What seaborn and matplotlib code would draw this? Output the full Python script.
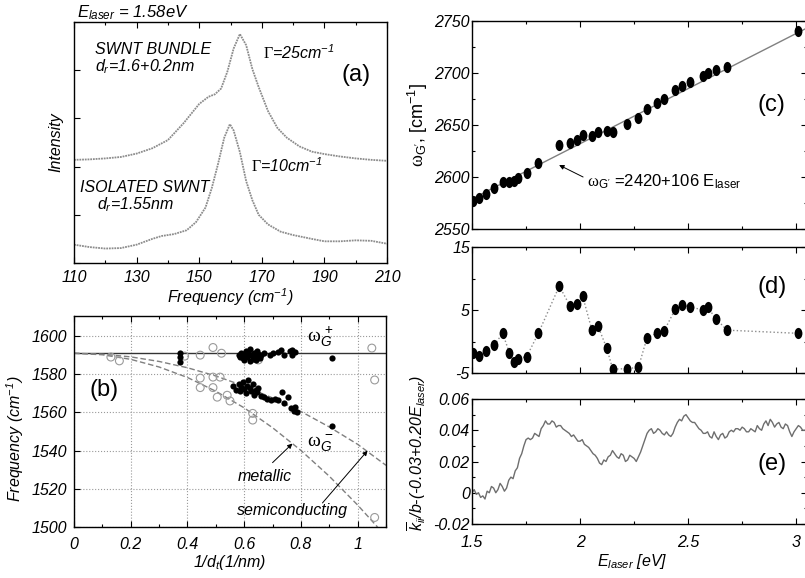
import matplotlib
matplotlib.use("Agg")
import matplotlib.pyplot as plt
from matplotlib.path import Path
from matplotlib.ticker import MultipleLocator
import seaborn as sns

# ---------------- data ----------------
# (a) RBM spectra at E_laser = 1.58 eV
freq_bundle = [110, 115, 120, 125, 130, 135, 140, 145, 150, 153, 155, 157, 159, 161, 163,
               165, 167, 169, 172, 175, 178, 182, 186, 190, 195, 200, 205, 210]
int_bundle = [2.14, 2.15, 2.17, 2.20, 2.27, 2.38, 2.55, 2.90, 3.30, 3.45, 3.50, 3.62, 3.97, 4.45, 4.75,
              4.52, 4.02, 3.65, 3.15, 2.80, 2.60, 2.42, 2.31, 2.26, 2.21, 2.17, 2.14, 2.12]
freq_iso = [110, 115, 120, 125, 130, 135, 138, 142, 146, 149, 152, 154, 156, 158, 159.8,
            161, 163, 165, 167, 169, 172, 176, 180, 186, 190, 195, 200, 205, 210]
int_iso = [0.38, 0.33, 0.30, 0.31, 0.38, 0.50, 0.56, 0.60, 0.68, 0.85, 1.15, 1.55, 2.05, 2.60, 2.88,
           2.75, 2.30, 1.70, 1.30, 1.00, 0.80, 0.65, 0.58, 0.50, 0.45, 0.45, 0.47, 0.46, 0.40]
a_xticks = [110, 130, 150, 170, 190, 210]

# (b) G-band frequencies vs 1/dt
gplus_x = [0.375, 0.375, 0.375, 0.58, 0.585, 0.59, 0.595, 0.60, 0.605, 0.61, 0.615, 0.62, 0.625,
           0.63, 0.635, 0.64, 0.645, 0.65, 0.655, 0.66, 0.60, 0.62, 0.64, 0.67, 0.69, 0.70, 0.72,
           0.73, 0.74, 0.76, 0.77, 0.77, 0.78, 0.91]
gplus_y = [1591, 1589, 1586.5, 1590, 1589, 1591, 1588.5, 1590.5, 1592, 1589, 1591.5, 1593, 1590,
           1588, 1591, 1589.5, 1592, 1590.5, 1588.5, 1590, 1587.5, 1587, 1587.5, 1591, 1590, 1591,
           1591.8, 1592.6, 1590, 1592.3, 1592.6, 1590, 1591.5, 1588.5]
gminus_x = [0.56, 0.57, 0.58, 0.585, 0.59, 0.595, 0.60, 0.605, 0.61, 0.615, 0.62, 0.625, 0.63,
            0.635, 0.64, 0.645, 0.65, 0.66, 0.67, 0.68, 0.695, 0.71, 0.72, 0.735, 0.74, 0.755,
            0.765, 0.775, 0.78, 0.785, 0.91]
gminus_y = [1574, 1572, 1575, 1571, 1573.5, 1576, 1572.5, 1570, 1574, 1577, 1573, 1571, 1575,
            1569, 1572, 1570.5, 1573, 1568.5, 1568, 1567, 1566.5, 1567, 1566.5, 1570.5, 1565, 1568,
            1562.5, 1561, 1563, 1560, 1553]
open_x = [0.13, 0.16, 0.39, 0.445, 0.49, 0.52, 0.65, 0.445, 0.49, 0.515, 0.445, 0.49, 0.505,
          0.54, 0.55, 0.63, 0.63, 1.05, 1.06, 1.06]
open_y = [1589, 1587, 1589.5, 1590, 1594, 1591, 1587.5, 1578, 1578.5, 1578.5, 1573, 1573, 1568,
          1569, 1566, 1556, 1559.5, 1593.7, 1577, 1505]
gplus_line_x = [0, 1.1]
gplus_line_y = [1591, 1591]
semi_x = [0, 0.1, 0.2, 0.3, 0.4, 0.5, 0.6, 0.7, 0.8, 0.9, 1.0, 1.1]
semi_y = [1591, 1590.5, 1589.1, 1586.7, 1583.4, 1579.1, 1573.8, 1567.6, 1560.5, 1552.4, 1543.3, 1532.3]
metal_x = [0, 0.1, 0.2, 0.3, 0.4, 0.5, 0.6, 0.7, 0.8, 0.9, 1.0, 1.07]
metal_y = [1591, 1590.2, 1587.8, 1583.8, 1578.3, 1571.1, 1562.4, 1552.0, 1540.1, 1526.6, 1511.5, 1500]
b_xticks = [0, 0.2, 0.4, 0.6, 0.8, 1.0]
b_xticklabels = ['0', '0.2', '0.4', '0.6', '0.8', '1']

# (c), (d) G' band vs laser energy
e_laser = [1.503, 1.534, 1.565, 1.602, 1.642, 1.673, 1.694, 1.714, 1.753, 1.807, 1.904, 1.954,
           1.985, 2.012, 2.054, 2.082, 2.124, 2.151, 2.219, 2.270, 2.309, 2.358, 2.389, 2.440,
           2.471, 2.509, 2.568, 2.590, 2.630, 2.679, 3.008]
w_gprime = [2577, 2580, 2584, 2589, 2595, 2595.5, 2596.5, 2599, 2603.5, 2613, 2630.5, 2632.5,
            2636, 2640.5, 2639.5, 2643, 2644, 2643.5, 2651, 2656.5, 2665, 2671, 2675, 2683.5,
            2687.5, 2691.5, 2697, 2700, 2702.5, 2706, 2740]
w_resid = [-1.9, -2.3, -1.5, -0.6, 1.3, -1.8, -3.2, -2.7, -2.4, 1.3, 8.8, 5.6, 5.9, 7.2, 1.9, 2.5,
           -1.1, -4.4, -4.3, -4.1, 0.5, 1.4, 1.7, 5.1, 5.8, 5.5, 5.0, 5.4, 3.6, 1.8, 1.3]
fit_e = [1.5, 3.05]
fit_w = [2579, 2743.3]

# (e) normalised intensity
e_energy = [1.50, 1.51, 1.52, 1.53, 1.54, 1.55, 1.56, 1.57, 1.58, 1.59, 1.60, 1.61, 1.62, 1.63,
            1.64, 1.65, 1.66, 1.67, 1.68, 1.69, 1.70, 1.71, 1.72, 1.73, 1.74, 1.75, 1.76, 1.77,
            1.78, 1.79, 1.80, 1.81, 1.82, 1.83, 1.84, 1.85, 1.86, 1.87, 1.88, 1.89, 1.90, 1.91,
            1.92, 1.93, 1.94, 1.95, 1.96, 1.97, 1.98, 1.99, 2.00, 2.01, 2.02, 2.03, 2.04, 2.05,
            2.06, 2.07, 2.08, 2.09, 2.10, 2.11, 2.12, 2.13, 2.14, 2.15, 2.16, 2.17, 2.18, 2.19,
            2.20, 2.21, 2.22, 2.23, 2.24, 2.25, 2.26, 2.27, 2.28, 2.29, 2.30, 2.31, 2.32, 2.33,
            2.34, 2.35, 2.36, 2.37, 2.38, 2.39, 2.40, 2.41, 2.42, 2.43, 2.44, 2.45, 2.46, 2.47,
            2.48, 2.49, 2.50, 2.51, 2.52, 2.53, 2.54, 2.55, 2.56, 2.57, 2.58, 2.59, 2.60, 2.61,
            2.62, 2.63, 2.64, 2.65, 2.66, 2.67, 2.68, 2.69, 2.70, 2.71, 2.72, 2.73, 2.74, 2.75,
            2.76, 2.77, 2.78, 2.79, 2.80, 2.81, 2.82, 2.83, 2.84, 2.85, 2.86, 2.87, 2.88, 2.89,
            2.90, 2.91, 2.92, 2.93, 2.94, 2.95, 2.96, 2.97, 2.98, 2.99, 3.00, 3.01, 3.02, 3.03,
            3.04, 3.05]
e_kappa = [0.000, 0.002, -0.001, 0.000, -0.003, -0.002, -0.004, 0.001, 0.000, 0.004, 0.003, 0.000,
           0.002, 0.006, 0.004, 0.001, 0.003, 0.008, 0.010, 0.009, 0.014, 0.016, 0.022, 0.025,
           0.030, 0.034, 0.035, 0.034, 0.035, 0.038, 0.037, 0.036, 0.041, 0.043, 0.046, 0.044,
           0.044, 0.046, 0.045, 0.042, 0.043, 0.043, 0.041, 0.040, 0.039, 0.038, 0.036, 0.037,
           0.035, 0.033, 0.033, 0.034, 0.031, 0.030, 0.029, 0.027, 0.025, 0.024, 0.022, 0.019,
           0.018, 0.021, 0.020, 0.023, 0.024, 0.027, 0.025, 0.023, 0.022, 0.025, 0.024, 0.020,
           0.021, 0.024, 0.023, 0.022, 0.020, 0.023, 0.026, 0.030, 0.034, 0.038, 0.040, 0.041,
           0.038, 0.039, 0.041, 0.040, 0.038, 0.037, 0.039, 0.037, 0.036, 0.038, 0.042, 0.045,
           0.047, 0.046, 0.049, 0.050, 0.048, 0.046, 0.045, 0.045, 0.043, 0.041, 0.040, 0.038,
           0.038, 0.039, 0.036, 0.035, 0.039, 0.036, 0.034, 0.037, 0.038, 0.035, 0.036, 0.039,
           0.040, 0.039, 0.041, 0.041, 0.040, 0.042, 0.041, 0.039, 0.039, 0.041, 0.040, 0.039,
           0.043, 0.041, 0.040, 0.044, 0.046, 0.043, 0.047, 0.045, 0.042, 0.044, 0.045, 0.042,
           0.041, 0.044, 0.043, 0.039, 0.036, 0.039, 0.041, 0.043, 0.042, 0.040, 0.040, 0.041]
e_xticks = [1.5, 2.0, 2.5, 3.0]
e_xticklabels = ['1.5', '2', '2.5', '3']
e_yticks = [-0.02, 0, 0.02, 0.04, 0.06]
e_yticklabels = ['-0.02', '0', '0.02', '0.04', '0.06']

# ---------------- style ----------------
sns.set_style("ticks")
plt.rcParams['font.family'] = ['Liberation Sans', 'DejaVu Sans']
plt.rcParams['font.style'] = 'italic'
plt.rcParams['mathtext.fontset'] = 'custom'
plt.rcParams['mathtext.rm'] = 'Liberation Sans:style=normal'
plt.rcParams['mathtext.it'] = 'Liberation Sans:style=italic'
plt.rcParams['mathtext.sf'] = 'Liberation Sans:style=italic'
plt.rcParams['mathtext.cal'] = 'Liberation Serif:style=normal'
plt.rcParams['axes.unicode_minus'] = False
plt.rcParams['axes.edgecolor'] = 'black'
plt.rcParams['axes.linewidth'] = 1.0
plt.rcParams['text.color'] = 'black'
plt.rcParams['axes.labelcolor'] = 'black'
plt.rcParams['xtick.color'] = 'black'
plt.rcParams['ytick.color'] = 'black'

W, H = 805, 578
fig = plt.figure(figsize=(W / 100, H / 100), dpi=100)


def rect(l, t, r, b):
    return [l / W, 1 - b / H, (r - l) / W, (b - t) / H]


def ticks(ax, right=False, pad_x=4, pad_y=4):
    ax.tick_params(which='both', direction='in', top=True, right=right, labelsize=11.5, width=0.8)
    ax.tick_params(which='major', length=4)
    ax.tick_params(which='minor', length=2.5)
    ax.tick_params(axis='x', pad=pad_x)
    ax.tick_params(axis='y', pad=pad_y)


circ = Path.unit_circle()
ell = Path(circ.vertices * [0.7, 1.0], circ.codes)
big = dict(fontsize=17, fontstyle='normal')
arrow = dict(arrowstyle='-|>', color='black', lw=0.7, mutation_scale=7, shrinkA=0, shrinkB=0)

# ---------------- (a) ----------------
ax_a = fig.add_axes(rect(74, 22, 387, 263))
dotted = dict(color='#8c8c8c', lw=1.3, linestyle=(0, (1, 0.5)))
sns.lineplot(x=freq_bundle, y=int_bundle, ax=ax_a, **dotted)
sns.lineplot(x=freq_iso, y=int_iso, ax=ax_a, **dotted)
ax_a.set_xlim(110, 210)
ax_a.set_ylim(0, 5)
ax_a.set_xticks(a_xticks)
ax_a.xaxis.set_minor_locator(MultipleLocator(10))
ax_a.yaxis.set_major_locator(MultipleLocator(1))
ax_a.set_yticklabels([])
ticks(ax_a, pad_x=5)
ax_a.set_xlabel(r"Frequency (cm$^{\mathsf{-1}}$)", fontsize=11.5)
ax_a.xaxis.set_label_coords(0.5, -0.095)
ax_a.set_ylabel("Intensity", fontsize=11.5)
ax_a.yaxis.set_label_coords(-0.035, 0.5)
ax_a.text(0.01, 1.04, r"$E_{laser}$ = 1.58eV", transform=ax_a.transAxes, fontsize=12, va='center')
ax_a.text(116.7, 4.42, "SWNT BUNDLE", fontsize=11.5, va='center')
ax_a.text(116.7, 4.07, r"$d_r$=1.6+0.2nm", fontsize=11.5, va='center')
ax_a.text(170.5, 4.36, r"$\mathcal{\Gamma}$=25cm$^{\mathsf{-1}}$", fontsize=11.5, va='center')
ax_a.text(200.1, 3.9, "(a)", ha='center', va='center', **big)
ax_a.text(166.5, 2.03, r"$\mathcal{\Gamma}$=10cm$^{\mathsf{-1}}$", fontsize=11.5, va='center')
ax_a.text(111.9, 1.56, "ISOLATED SWNT", fontsize=11.5, va='center')
ax_a.text(117.3, 1.22, r"$d_r$=1.55nm", fontsize=11.5, va='center')

# ---------------- (b) ----------------
ax_b = fig.add_axes(rect(74, 316, 386, 527))
sns.lineplot(x=gplus_line_x, y=gplus_line_y, ax=ax_b, color='#333333', lw=1.0)
sns.lineplot(x=semi_x, y=semi_y, ax=ax_b, color='#808080', lw=1.0, linestyle=(0, (4, 2)))
sns.lineplot(x=metal_x, y=metal_y, ax=ax_b, color='#808080', lw=1.0, linestyle=(0, (4, 2)))
sns.scatterplot(x=open_x, y=open_y, ax=ax_b, s=32, facecolor='none', edgecolor='#9a9a9a',
                linewidth=0.8, zorder=3)
sns.scatterplot(x=gplus_x, y=gplus_y, ax=ax_b, s=20, color='black', linewidth=0, zorder=4)
sns.scatterplot(x=gminus_x, y=gminus_y, ax=ax_b, s=20, color='black', linewidth=0, zorder=4)
ax_b.set_xlim(0, 1.1)
ax_b.set_ylim(1500, 1610.5)
ax_b.set_xticks(b_xticks, b_xticklabels)
ax_b.xaxis.set_minor_locator(MultipleLocator(0.1))
ax_b.yaxis.set_major_locator(MultipleLocator(20))
ax_b.grid(True, which='major', linestyle=':', color='#9a9a9a', lw=0.8)
ticks(ax_b, pad_x=7, pad_y=5)
ax_b.set_ylabel(r"Frequency (cm$^{\mathsf{-1}}$)", fontsize=11.5)
ax_b.yaxis.set_label_coords(-0.155, 0.42)
ax_b.set_xlabel(r"1/$d_t$(1/nm)", fontsize=11.5)
ax_b.xaxis.set_label_coords(0.5, -0.125)
ax_b.text(0.106, 1571.6, "(b)", ha='center', va='center', **big)
ax_b.text(0.823, 1599.5, r"$\mathcal{\omega}_G^{\,+}$", fontsize=14, va='center', fontstyle='normal')
ax_b.text(0.823, 1543.7, r"$\mathcal{\omega}_G^{\,-}$", fontsize=14, va='center', fontstyle='normal')
ax_b.text(0.576, 1526.3, "metallic", fontsize=11.5, va='center')
ax_b.text(0.576, 1508.4, "semiconducting", fontsize=11.5, va='center')
ax_b.annotate('', xy=(0.77, 1543.7), xytext=(0.70, 1533.7), arrowprops=arrow)
ax_b.annotate('', xy=(1.035, 1540), xytext=(0.876, 1512.6), arrowprops=arrow)

# ---------------- (c) ----------------
ax_c = fig.add_axes(rect(472, 21, 807, 229))
sns.lineplot(x=fit_e, y=fit_w, ax=ax_c, color='#808080', lw=1.0)
sns.scatterplot(x=e_laser, y=w_gprime, ax=ax_c, marker=ell, s=65, color='black', linewidth=0, zorder=3)
ax_c.set_xlim(1.5, 3.05)
ax_c.set_ylim(2550, 2750)
ax_c.xaxis.set_major_locator(MultipleLocator(0.5))
ax_c.xaxis.set_minor_locator(MultipleLocator(0.25))
ax_c.yaxis.set_major_locator(MultipleLocator(50))
ax_c.yaxis.set_minor_locator(MultipleLocator(25))
ticks(ax_c, right=True, pad_y=1.5)
ax_c.tick_params(labelbottom=False)
ax_c.set_ylabel(r"$\mathcal{\omega}_{\mathrm{G'}}$, [cm$^{-1}$]", fontsize=13, fontstyle='normal')
ax_c.yaxis.set_label_coords(-0.125, 0.5)
ax_c.text(2.032, 2596, r"$\mathcal{\omega}_{\mathrm{G'}}$ =2420+106 E$_{\mathrm{laser}}$",
          fontsize=12, va='center', fontstyle='normal')
ax_c.annotate('', xy=(1.903, 2611.5), xytext=(2.014, 2600), arrowprops=arrow)
ax_c.text(2.884, 2669, "(c)", ha='center', va='center', **big)

# ---------------- (d) ----------------
ax_d = fig.add_axes(rect(472, 247, 807, 373))
sns.lineplot(x=e_laser, y=w_resid, ax=ax_d, color='#8c8c8c', lw=1.0, linestyle=':',
             sort=False, estimator=None)
sns.scatterplot(x=e_laser, y=w_resid, ax=ax_d, marker=ell, s=65, color='black', linewidth=0, zorder=3)
ax_d.set_xlim(1.5, 3.05)
ax_d.set_ylim(-5, 15)
ax_d.xaxis.set_major_locator(MultipleLocator(0.5))
ax_d.xaxis.set_minor_locator(MultipleLocator(0.25))
ax_d.set_yticks([-5, 5, 15])
ax_d.set_yticks([0, 10], minor=True)
ticks(ax_d, right=True, pad_y=1.5)
ax_d.tick_params(labelbottom=False)
ax_d.text(2.89, 8.6, "(d)", ha='center', va='center', **big)

# ---------------- (e) ----------------
ax_e = fig.add_axes(rect(472, 399, 807, 524))
sns.lineplot(x=e_energy, y=e_kappa, ax=ax_e, color='#6e6e6e', lw=1.0)
ax_e.set_xlim(1.5, 3.05)
ax_e.set_ylim(-0.02, 0.06)
ax_e.set_xticks(e_xticks, e_xticklabels)
ax_e.xaxis.set_minor_locator(MultipleLocator(0.25))
ax_e.set_yticks(e_yticks, e_yticklabels)
ax_e.yaxis.set_minor_locator(MultipleLocator(0.01))
ticks(ax_e, right=True, pad_x=8, pad_y=1.5)
ax_e.set_xlabel(r"$E_{laser}$ [eV]", fontsize=11.5)
ax_e.xaxis.set_label_coords(0.48, -0.225)
ax_e.set_ylabel(r"$\overline{k}_{ii}$/b-(-0.03+0.20$E_{laser}$)", fontsize=11.5)
ax_e.yaxis.set_label_coords(-0.13, 0.57)
ax_e.text(2.89, 0.0185, "(e)", ha='center', va='center', **big)

fig.savefig("out.png", dpi=100)
